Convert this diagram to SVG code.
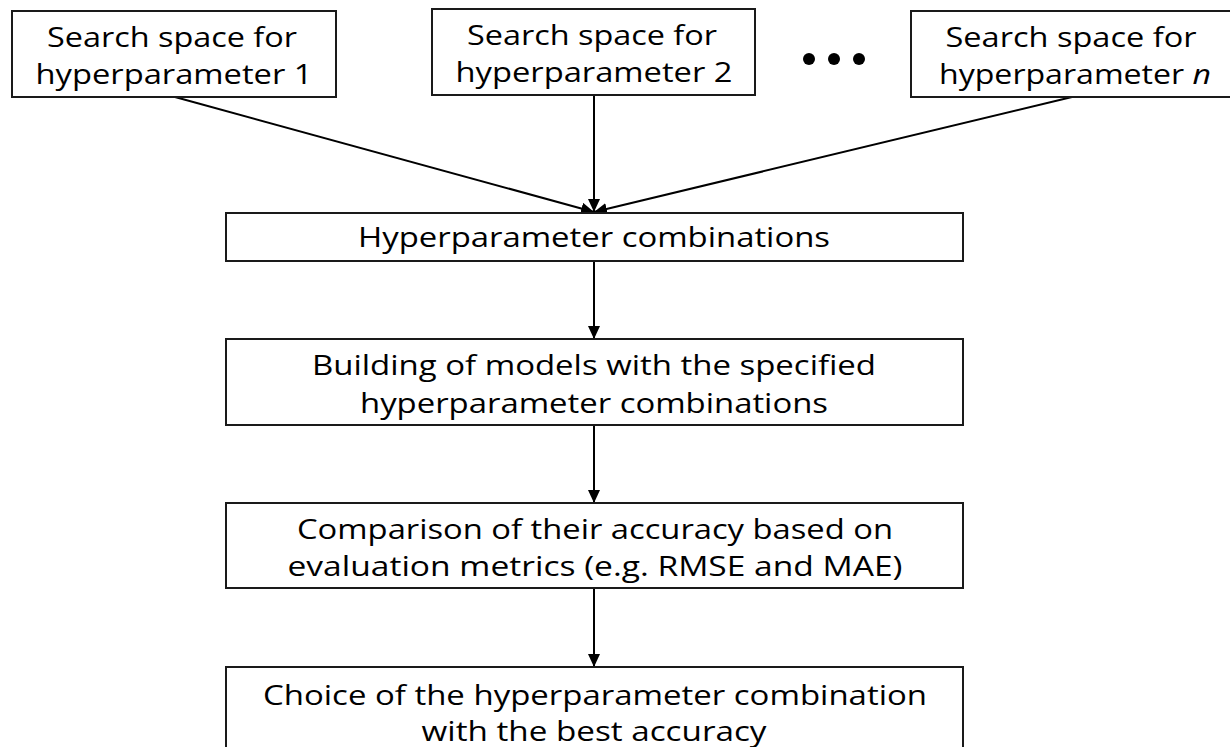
<svg xmlns="http://www.w3.org/2000/svg" width="1230" height="747" viewBox="0 0 1230 747">
  <style>
    .box { fill: #ffffff; stroke: #1a1a1a; stroke-width: 2; }
    .lbl { font-family: "Open Sans", Lato, "Liberation Sans", sans-serif; font-size: 28px; fill: #000000; text-anchor: middle; }
    .conn { stroke: #000000; stroke-width: 2; fill: none; marker-end: url(#arrow); }
    .dot { fill: #000000; }
  </style>
  <defs>
    <marker id="arrow" markerUnits="userSpaceOnUse" markerWidth="14" markerHeight="12" refX="13" refY="6" orient="auto">
      <path d="M0,0 L13,6 L0,12 z" fill="#000000"/>
    </marker>
  </defs>

  <g id="connectors">
    <line class="conn" x1="175" y1="97" x2="594" y2="212"/>
    <line class="conn" x1="594" y1="95" x2="594" y2="212"/>
    <line class="conn" x1="1072" y1="97" x2="594" y2="212"/>
    <line class="conn" x1="594" y1="261" x2="594" y2="339"/>
    <line class="conn" x1="594" y1="425" x2="594" y2="503"/>
    <line class="conn" x1="594" y1="588" x2="594" y2="667"/>
  </g>

  <g id="node-hp1">
    <rect class="box" x="12" y="11" width="324" height="86"/>
    <text class="lbl" x="172" y="47" textLength="250" lengthAdjust="spacingAndGlyphs">Search space for</text>
    <text class="lbl" x="174" y="84" textLength="277" lengthAdjust="spacingAndGlyphs">hyperparameter 1</text>
  </g>

  <g id="node-hp2">
    <rect class="box" x="432" y="9" width="323" height="86"/>
    <text class="lbl" x="592" y="45" textLength="250" lengthAdjust="spacingAndGlyphs">Search space for</text>
    <text class="lbl" x="594" y="82" textLength="277" lengthAdjust="spacingAndGlyphs">hyperparameter 2</text>
  </g>

  <g id="ellipsis">
    <circle class="dot" cx="809" cy="59" r="6"/>
    <circle class="dot" cx="834" cy="59" r="6"/>
    <circle class="dot" cx="859" cy="59" r="6"/>
  </g>

  <g id="node-hpn">
    <rect class="box" x="911" y="11" width="325" height="86"/>
    <text class="lbl" x="1071" y="47" textLength="251" lengthAdjust="spacingAndGlyphs">Search space for</text>
    <text class="lbl" x="1075" y="84" textLength="272" lengthAdjust="spacingAndGlyphs">hyperparameter <tspan font-style="italic">n</tspan></text>
  </g>

  <g id="node-combinations">
    <rect class="box" x="226" y="213" width="737" height="48"/>
    <text class="lbl" x="594" y="247" textLength="472" lengthAdjust="spacingAndGlyphs">Hyperparameter combinations</text>
  </g>

  <g id="node-building">
    <rect class="box" x="226" y="339" width="737" height="86"/>
    <text class="lbl" x="594" y="375" textLength="564" lengthAdjust="spacingAndGlyphs">Building of models with the specified</text>
    <text class="lbl" x="594" y="413" textLength="468" lengthAdjust="spacingAndGlyphs">hyperparameter combinations</text>
  </g>

  <g id="node-comparison">
    <rect class="box" x="226" y="503" width="737" height="85"/>
    <text class="lbl" x="595" y="539" textLength="596" lengthAdjust="spacingAndGlyphs">Comparison of their accuracy based on</text>
    <text class="lbl" x="595" y="576" textLength="615" lengthAdjust="spacingAndGlyphs">evaluation metrics (e.g. RMSE and MAE)</text>
  </g>

  <g id="node-choice">
    <rect class="box" x="226" y="667" width="737" height="90"/>
    <text class="lbl" x="595" y="705" textLength="664" lengthAdjust="spacingAndGlyphs">Choice of the hyperparameter combination</text>
    <text class="lbl" x="594" y="741" textLength="345" lengthAdjust="spacingAndGlyphs">with the best accuracy</text>
  </g>
</svg>
